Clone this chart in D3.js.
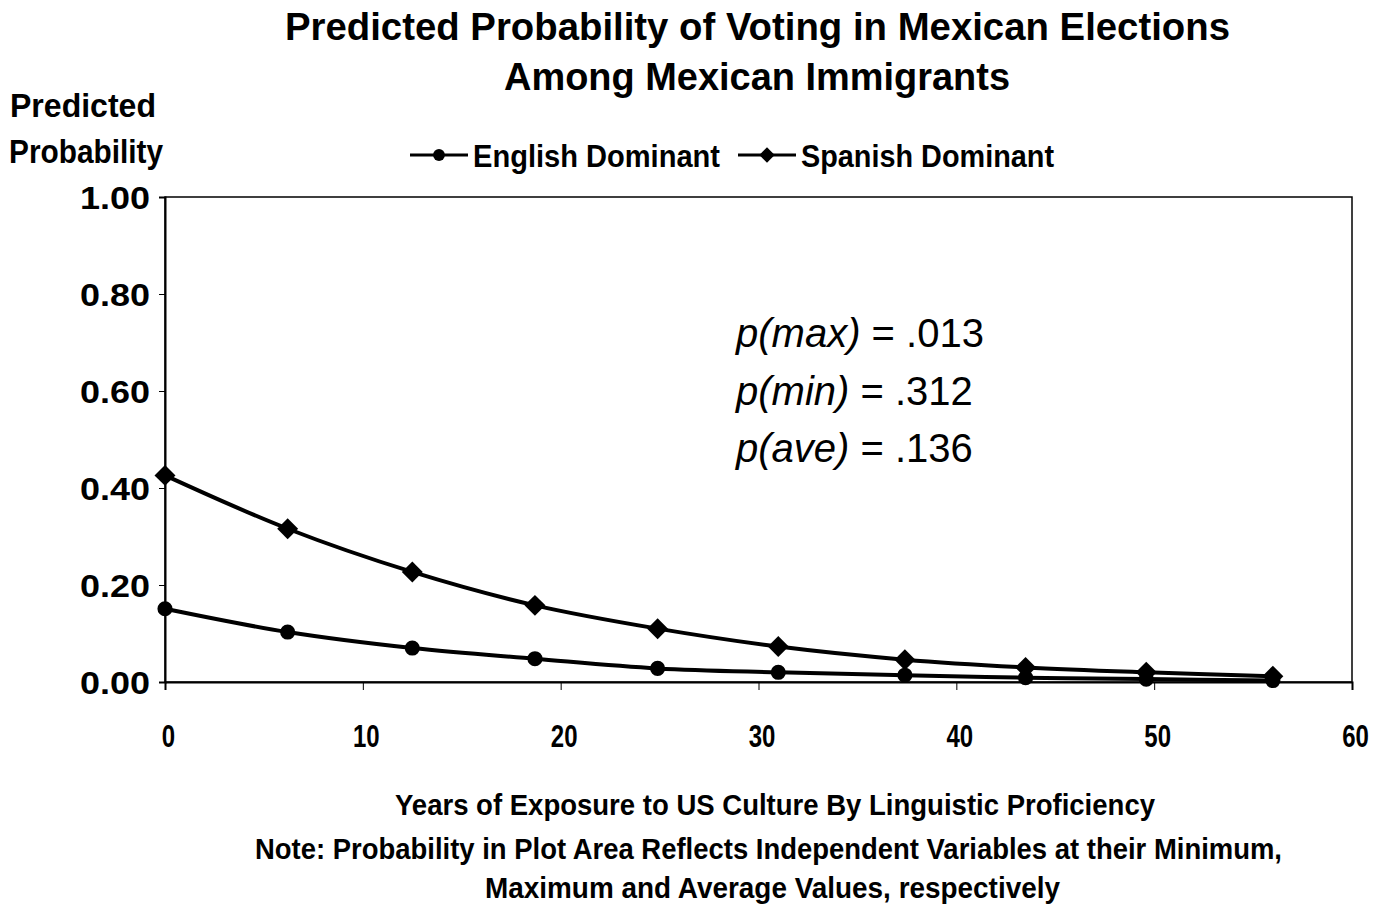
<!DOCTYPE html>
<html>
<head>
<meta charset="utf-8">
<script src="https://cdn.jsdelivr.net/npm/d3@7"></script>
<style>
  html, body { margin: 0; padding: 0; background: #fff; }
  svg { display: block; }
  .narrow { font-family: "Liberation Sans", Arial, sans-serif; font-weight: bold; }
</style>
</head>
<body>
<svg id="chart" width="1378" height="908"></svg>
<script>
// Years of exposure at which probabilities were evaluated
const years = [0, 6.2, 12.5, 18.7, 24.9, 31, 37.4, 43.5, 49.6, 56];
// Predicted probabilities by linguistic group
const englishDominant = [0.151, 0.103, 0.070, 0.048, 0.028, 0.020, 0.014, 0.009, 0.006, 0.003];
const spanishDominant = [0.426, 0.316, 0.227, 0.158, 0.110, 0.073, 0.046, 0.030, 0.020, 0.012];
const seriesNames = ["English Dominant", "Spanish Dominant"];
const yTicks = [0, 0.2, 0.4, 0.6, 0.8, 1.0];
const xTicks = [0, 10, 20, 30, 40, 50, 60];
const titleLines = ["Predicted Probability of Voting in Mexican Elections", "Among Mexican Immigrants"];
const yLabelLines = ["Predicted", "Probability"];
const footerLines = [
  "Years of Exposure to US Culture By Linguistic Proficiency",
  "Note: Probability in Plot Area Reflects Independent Variables at their Minimum,",
  "Maximum and Average Values, respectively"
];
const noteLabels = ["p(max)", "p(min)", "p(ave)"];
const noteValues = [".013", ".312", ".136"];

const svg = d3.select("#chart");
const plot = { left: 165, right: 1352, top: 197, bottom: 682 };

const x = d3.scaleLinear().domain([0, 60]).range([plot.left, plot.right]);
const y = d3.scaleLinear().domain([0, 1]).range([plot.bottom, plot.top]);

// Condensed bold text: fit a given width
function fit(sel, width) {
  sel.attr("textLength", width).attr("lengthAdjust", "spacingAndGlyphs");
}

// Title
const titleX = [285, 504], titleW = [945, 506];
svg.append("g").selectAll("text").data(titleLines).join("text")
  .attr("class", "narrow")
  .attr("x", (d, i) => titleX[i]).attr("y", (d, i) => 40 + i * 50)
  .attr("font-size", 39)
  .each(function (d, i) { fit(d3.select(this), titleW[i]); })
  .text(d => d);

// Y axis title
const yLabX = [10, 9], yLabW = [146, 154];
svg.append("g").selectAll("text").data(yLabelLines).join("text")
  .attr("class", "narrow")
  .attr("x", (d, i) => yLabX[i]).attr("y", (d, i) => 117 + i * 46)
  .attr("font-size", 33)
  .each(function (d, i) { fit(d3.select(this), yLabW[i]); })
  .text(d => d);

// Plot frame
svg.append("rect")
  .attr("x", plot.left).attr("y", plot.top)
  .attr("width", plot.right - plot.left).attr("height", plot.bottom - plot.top)
  .attr("fill", "none").attr("stroke", "#000").attr("stroke-width", 1.5);

// Y axis
const yAxis = svg.append("g")
  .attr("transform", `translate(${plot.left},0)`)
  .call(d3.axisLeft(y).tickValues(yTicks).tickFormat(d3.format(".2f")).tickSize(6).tickPadding(9));
yAxis.select(".domain").attr("stroke-width", 2);
yAxis.selectAll("text").attr("class", "narrow").attr("font-size", 32).attr("fill", "#000")
  .attr("dy", "0.36em").attr("textLength", 70).attr("lengthAdjust", "spacingAndGlyphs");

// X axis
const xAxis = svg.append("g")
  .attr("transform", `translate(0,${plot.bottom})`)
  .call(d3.axisBottom(x).tickValues(xTicks).tickFormat(d3.format("d")).tickSize(8).tickPadding(34));
xAxis.select(".domain").attr("stroke-width", 2);
xAxis.selectAll(".tick text").attr("class", "narrow").attr("font-size", 32).attr("fill", "#000")
  .attr("x", 4)
  .attr("transform", "scale(0.75,1)");

// Series lines
const line = d3.line()
  .x(d => x(d[0]))
  .y(d => y(d[1]))
  .curve(d3.curveCatmullRom.alpha(0.5));

const series = [
  { name: seriesNames[0], values: englishDominant, marker: "circle" },
  { name: seriesNames[1], values: spanishDominant, marker: "diamond" }
];

const diamond = d3.symbol().type(d3.symbolDiamond2).size(280);
const dot = d3.symbol().type(d3.symbolCircle).size(180);

series.forEach(s => {
  const pts = years.map((yr, i) => [yr, s.values[i]]);
  svg.append("path")
    .attr("d", line(pts))
    .attr("fill", "none").attr("stroke", "#000").attr("stroke-width", 4);
  svg.append("g").selectAll("path").data(pts).join("path")
    .attr("transform", d => `translate(${x(d[0])},${y(d[1])})`)
    .attr("d", s.marker === "circle" ? dot() : diamond())
    .attr("fill", "#000");
});

// Legend
const legend = svg.append("g").attr("transform", "translate(0,155)");
const legendX = [410, 738], legendW = [247, 253];
series.forEach((s, i) => {
  const g = legend.append("g").attr("transform", `translate(${legendX[i]},0)`);
  g.append("line").attr("x1", 0).attr("x2", 58).attr("y1", 0).attr("y2", 0)
    .attr("stroke", "#000").attr("stroke-width", 3);
  g.append("path").attr("transform", "translate(29,0)")
    .attr("d", s.marker === "circle" ? d3.symbol().type(d3.symbolCircle).size(110)() : d3.symbol().type(d3.symbolDiamond2).size(150)())
    .attr("fill", "#000");
  g.append("text").attr("class", "narrow")
    .attr("x", 63).attr("y", 12).attr("font-size", 32)
    .call(fit, legendW[i])
    .text(s.name);
});

// Probability annotations
const notes = svg.append("g");
noteLabels.forEach((lab, i) => {
  const t = notes.append("text")
    .attr("x", 736).attr("y", 347 + i * 57.5)
    .attr("font-family", "Liberation Sans, Arial, sans-serif")
    .attr("font-size", 40);
  t.append("tspan").attr("font-style", "italic").text(lab);
  t.append("tspan").text(" = " + noteValues[i]);
});

// Footer
const footX = [395, 255, 485], footW = [760, 1027, 575], footY = [815, 859, 898];
svg.append("g").selectAll("text").data(footerLines).join("text")
  .attr("class", "narrow")
  .attr("x", (d, i) => footX[i]).attr("y", (d, i) => footY[i])
  .attr("font-size", 29)
  .each(function (d, i) { fit(d3.select(this), footW[i]); })
  .text(d => d);
</script>
</body>
</html>
